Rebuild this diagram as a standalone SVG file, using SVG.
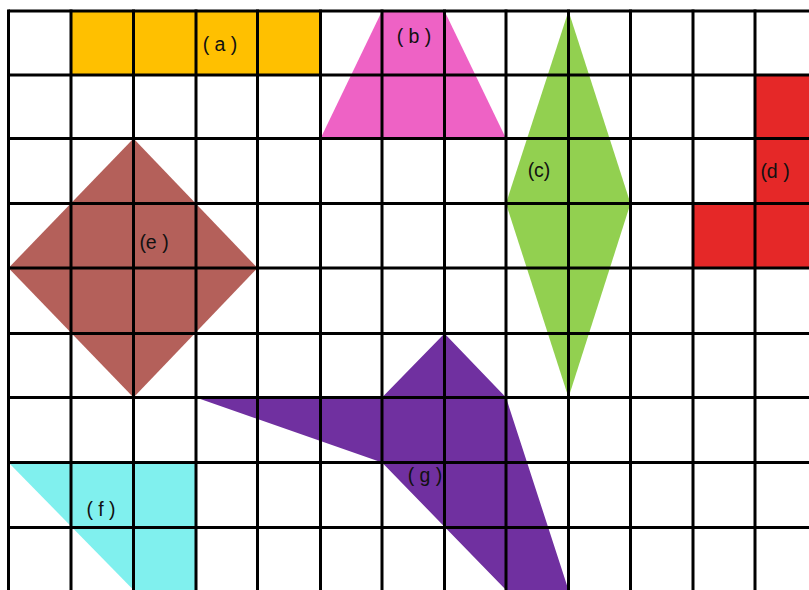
<svg xmlns="http://www.w3.org/2000/svg" width="809" height="590" viewBox="0 0 809 590">
<style>
.lbl{font-family:"Liberation Sans",Arial,sans-serif;font-size:19.5px;fill:#111;text-anchor:middle}
.grid line{stroke:#000;stroke-width:3}
</style>
<rect x="0" y="0" width="809" height="590" fill="#fff"/>
<g id="shape-a">
<rect x="71" y="11" width="249.5" height="64" fill="#FFC000"/>
<text class="lbl" x="220" y="51">( a )</text>
</g>
<g id="shape-b">
<polygon points="382,11 444.5,11 506,138.5 320.5,138.5" fill="#EE62C5"/>
<text class="lbl" x="414" y="43">( b )</text>
</g>
<g id="shape-c">
<polygon points="568.5,11 630.5,203.5 568.5,397.5 506,203.5" fill="#92D050"/>
<text class="lbl" x="539" y="177">(c)</text>
</g>
<g id="shape-d">
<polygon points="755,75 809,75 809,268 693,268 693,203.5 755,203.5" fill="#E52828"/>
<text class="lbl" x="775" y="178">(d )</text>
</g>
<g id="shape-e">
<polygon points="133.5,138.5 257.5,268 133.5,397.5 8.5,268" fill="#B4605A"/>
<text class="lbl" x="154" y="249">(e )</text>
</g>
<g id="shape-f">
<polygon points="8.5,462.5 196,462.5 196,590 133.5,590" fill="#80F0EE"/>
<text class="lbl" x="101" y="516">( f )</text>
</g>
<g id="shape-g">
<polygon points="196,397.5 382,397.5 444.5,333.5 506,397.5 568.5,590 506,590 382,462.5" fill="#7030A0"/>
<text class="lbl" x="425" y="482">( g )</text>
</g>
<g id="grid" class="grid">
<line x1="8.5" y1="11" x2="809" y2="11"/>
<line x1="8.5" y1="75" x2="809" y2="75"/>
<line x1="8.5" y1="138.5" x2="809" y2="138.5"/>
<line x1="8.5" y1="203.5" x2="809" y2="203.5"/>
<line x1="8.5" y1="268" x2="809" y2="268"/>
<line x1="8.5" y1="333.5" x2="809" y2="333.5"/>
<line x1="8.5" y1="397.5" x2="809" y2="397.5"/>
<line x1="8.5" y1="462.5" x2="809" y2="462.5"/>
<line x1="8.5" y1="527.5" x2="809" y2="527.5"/>
<line x1="8.5" y1="9.5" x2="8.5" y2="590"/>
<line x1="71" y1="9.5" x2="71" y2="590"/>
<line x1="133.5" y1="9.5" x2="133.5" y2="590"/>
<line x1="196" y1="9.5" x2="196" y2="590"/>
<line x1="257.5" y1="9.5" x2="257.5" y2="590"/>
<line x1="320.5" y1="9.5" x2="320.5" y2="590"/>
<line x1="382" y1="9.5" x2="382" y2="590"/>
<line x1="444.5" y1="9.5" x2="444.5" y2="590"/>
<line x1="506" y1="9.5" x2="506" y2="590"/>
<line x1="568.5" y1="9.5" x2="568.5" y2="590"/>
<line x1="630.5" y1="9.5" x2="630.5" y2="590"/>
<line x1="693" y1="9.5" x2="693" y2="590"/>
<line x1="755" y1="9.5" x2="755" y2="590"/>
</g>
</svg>
